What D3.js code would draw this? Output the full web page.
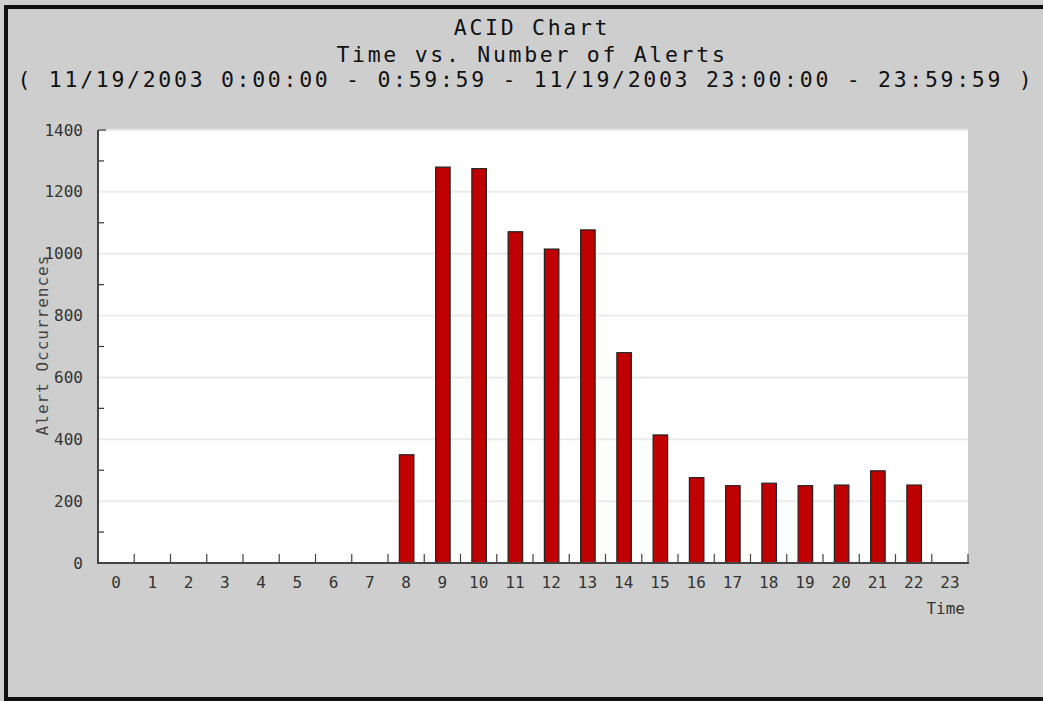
<!DOCTYPE html>
<html>
<head>
<meta charset="utf-8">
<script src="https://cdn.jsdelivr.net/npm/d3@7"></script>
<style>
html,body{margin:0;padding:0;background:#cecece;}
svg{display:block;}
text{font-family:"DejaVu Sans Mono",monospace;}
</style>
</head>
<body>
<svg id="chart" width="1043" height="701"></svg>
<script>
const hours = ["0","1","2","3","4","5","6","7","8","9","10","11","12","13","14","15","16","17","18","19","20","21","22","23"];
const alerts = [0,0,0,0,0,0,0,0,350,1280,1275,1071,1015,1077,680,414,276,250,258,250,252,298,252,0];
const yTicks = [0,200,400,600,800,1000,1200,1400];
const yMinor = [100,300,500,700,900,1100,1300];
const titleLines = ["ACID Chart","Time vs. Number of Alerts","( 11/19/2003 0:00:00 - 0:59:59 - 11/19/2003 23:00:00 - 23:59:59 )"];
const xTitle = "Time";
const yTitle = "Alert Occurrences";

const svg = d3.select("#chart");
const W = 1043, H = 701;
const L = 98, R = 968, T = 130, B = 563;

svg.append("rect").attr("width",W).attr("height",H).attr("fill","#cecece");
// frame (no right edge)
svg.append("path").attr("d",`M${W+5},7 H6 V699 H${W+5}`).attr("fill","none").attr("stroke","#111").attr("stroke-width",4);

// titles
const tY = [35,62,87], tX = [532,532,526];
svg.selectAll("text.title").data(titleLines).join("text").attr("class","title")
  .attr("x",(d,i)=>tX[i]).attr("y",(d,i)=>tY[i]).attr("text-anchor","middle")
  .attr("font-size",21.5).attr("letter-spacing",2.7).attr("fill","#111").text(d=>d);

// plot area
svg.append("rect").attr("x",L).attr("y",T).attr("width",R-L).attr("height",B-T).attr("fill","#fff");

const slot = d3.scaleBand().domain(hours).range([L,R]).padding(0);
const y = d3.scaleLinear().domain([0,1400]).range([B,T]);

// gridlines
svg.append("g").selectAll("line").data(yTicks.filter(v=>v>0)).join("line")
  .attr("x1",L).attr("x2",R).attr("y1",d=>y(d)).attr("y2",d=>y(d))
  .attr("stroke","#ebebeb").attr("stroke-width",2);

// bars
svg.append("g").selectAll("rect").data(hours).join("rect")
  .attr("x",d=>slot(d)+slot.bandwidth()*0.3+0.5)
  .attr("width",slot.bandwidth()*0.4)
  .attr("y",(d,i)=>y(alerts[i]))
  .attr("height",(d,i)=>B-y(alerts[i]))
  .attr("fill","#c00000").attr("stroke","#222").attr("stroke-width",1.2)
  .attr("display",(d,i)=>alerts[i]>0?null:"none");

// y axis
const yAxis = d3.axisLeft(y).tickValues(yTicks).tickSize(0).tickPadding(15).tickFormat(d3.format("d"));
const gy = svg.append("g").attr("transform",`translate(${L},0)`).call(yAxis);
gy.select(".domain").remove();
gy.selectAll("text").attr("font-size",16).attr("fill","#333").attr("font-family","DejaVu Sans Mono");
svg.append("g").selectAll("line").data(yMinor.concat([1400])).join("line")
  .attr("x1",L).attr("x2",d=>d===1400?L+8:L+6).attr("y1",d=>y(d)).attr("y2",d=>y(d))
  .attr("stroke","#333").attr("stroke-width",1.2);

// x axis labels
const xAxis = d3.axisBottom(slot).tickSize(0).tickPadding(14);
const gx = svg.append("g").attr("transform",`translate(0,${B})`).call(xAxis);
gx.select(".domain").remove();
gx.selectAll("text").attr("font-size",16).attr("fill","#333").attr("font-family","DejaVu Sans Mono");
// x ticks at slot boundaries
svg.append("g").selectAll("line").data(hours).join("line")
  .attr("x1",d=>slot(d)+slot.bandwidth()).attr("x2",d=>slot(d)+slot.bandwidth())
  .attr("y1",B).attr("y2",B-9).attr("stroke","#444").attr("stroke-width",1.2);

// axis lines
svg.append("line").attr("x1",L).attr("x2",L).attr("y1",T).attr("y2",B+1).attr("stroke","#444").attr("stroke-width",2);
svg.append("line").attr("x1",L-1).attr("x2",R+1).attr("y1",B).attr("y2",B).attr("stroke","#444").attr("stroke-width",2);

// axis titles
svg.append("text").attr("x",965).attr("y",614).attr("text-anchor","end")
  .attr("font-size",16).attr("fill","#333").text(xTitle);
svg.append("text").attr("transform","translate(48,345) rotate(-90)").attr("text-anchor","middle")
  .attr("font-size",16).attr("letter-spacing",1).attr("fill","#444").text(yTitle);
</script>
</body>
</html>
